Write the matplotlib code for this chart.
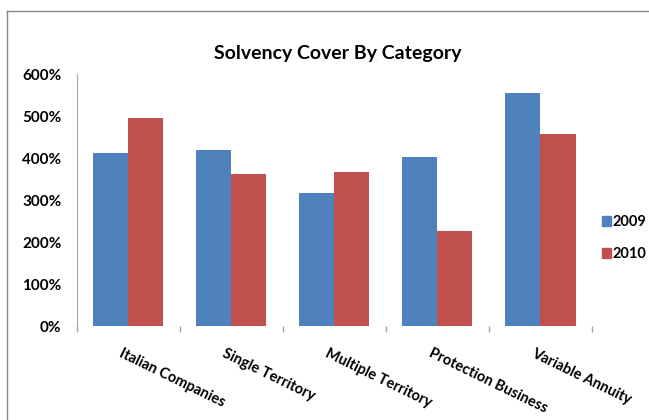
# solvency cover by category, 2009 vs 2010

import matplotlib
matplotlib.use("Agg")
import matplotlib.pyplot as plt
import matplotlib.transforms as mtransforms
from matplotlib.lines import Line2D
from matplotlib.patches import Patch
import numpy as np

categories = ["Italian Companies", "Single Territory", "Multiple Territory",
              "Protection Business", "Variable Annuity"]
cover_2009 = [4.11, 4.19, 3.17, 4.03, 5.54]
cover_2010 = [4.96, 3.62, 3.67, 2.26, 4.57]
years = ["2009", "2010"]
y_ticks = [0, 1, 2, 3, 4, 5, 6]
y_labels = ["0%", "100%", "200%", "300%", "400%", "500%", "600%"]

blue = "#4F81BD"
red = "#C0504D"
grey = "#A6A6A6"

plt.rcParams["font.family"] = ["Lato", "DejaVu Sans"]

fig = plt.figure(figsize=(6.49, 4.20), dpi=100)
ax = fig.add_axes([0.1182, 0.2238, 0.794, 0.6])

x = np.arange(len(categories)) + 0.5
w = 0.34
ax.bar(x - w / 2, cover_2009, width=w, color=blue, label=years[0])
ax.bar(x + w / 2, cover_2010, width=w, color=red, label=years[1])

ax.set_xlim(0, len(categories))
ax.set_ylim(0, 6)
ax.set_yticks(y_ticks)
ax.set_yticklabels(y_labels, fontsize=11, fontweight="bold")
ax.tick_params(axis="y", length=0, pad=11)
ax.set_xticks(np.arange(len(categories) + 1))
ax.set_xticklabels([])
ax.tick_params(axis="x", length=4, color=grey, width=1)

for s in ["top", "right", "bottom"]:
    ax.spines[s].set_visible(False)
ax.spines["left"].set_color(grey)

# rotated category labels hanging down to the right
off = mtransforms.ScaledTranslation(-5 / 100, -20 / 100, fig.dpi_scale_trans)
trans = mtransforms.blended_transform_factory(ax.transData, ax.transAxes) + off
for xi, name in zip(x, categories):
    ax.text(xi, 0, name, transform=trans, rotation=-26, rotation_mode="anchor",
            ha="left", va="top", fontsize=10.5, fontweight="bold")

fig.text(338 / 649, 1 - 53 / 420, "Solvency Cover By Category", ha="center",
         va="center", fontsize=14, fontweight="bold")

handles = [Patch(color=blue), Patch(color=red)]
fig.legend(handles, years, loc="upper left", bbox_to_anchor=(602 / 649, 1 - 215 / 420),
           frameon=False, handlelength=0.6, handleheight=0.7, handletextpad=0.1,
           labelspacing=1.25, prop={"size": 10.5, "weight": "bold"}, borderaxespad=0,
           borderpad=0)

# outer chart frame (left and top edges show)
fig.add_artist(Line2D([7 / 649, 7 / 649], [0, 1 - 11 / 420], transform=fig.transFigure,
                      color="#868686", lw=1))
fig.add_artist(Line2D([7 / 649, 1], [1 - 11 / 420, 1 - 11 / 420], transform=fig.transFigure,
                      color="#868686", lw=1))

fig.savefig("out.png", dpi=100)
